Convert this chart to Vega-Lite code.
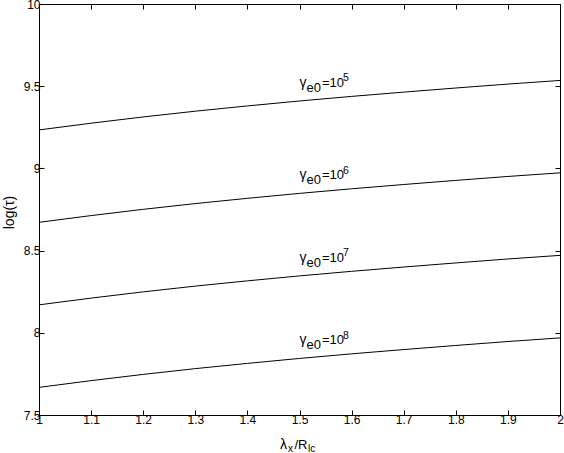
{
  "$schema": "https://vega.github.io/schema/vega-lite/v6.json",
  "width": 521,
  "height": 411,
  "autosize": {"type": "none"},
  "padding": {"left": 39, "top": 4, "right": 4, "bottom": 38},
  "background": "white",
  "config": {
    "view": {"stroke": null},
    "font": "Liberation Sans",
    "axis": {
      "domainColor": "black",
      "domainWidth": 1,
      "tickColor": "black",
      "tickSize": -5,
      "labelColor": "black",
      "labelFont": "Liberation Sans",
      "labelFontSize": 12,
      "grid": false,
      "titleFont": "Liberation Sans",
      "titleFontWeight": "normal",
      "titleColor": "black"
    }
  },
  "datasets": {
    "curves": [
      {"series": "1e5", "x": 1.0, "y": 9.234}, {"series": "1e5", "x": 1.1, "y": 9.275}, {"series": "1e5", "x": 1.2, "y": 9.313}, {"series": "1e5", "x": 1.3, "y": 9.348}, {"series": "1e5", "x": 1.4, "y": 9.380}, {"series": "1e5", "x": 1.5, "y": 9.410}, {"series": "1e5", "x": 1.6, "y": 9.438}, {"series": "1e5", "x": 1.7, "y": 9.464}, {"series": "1e5", "x": 1.8, "y": 9.489}, {"series": "1e5", "x": 1.9, "y": 9.513}, {"series": "1e5", "x": 2.0, "y": 9.535},
      {"series": "1e6", "x": 1.0, "y": 8.672}, {"series": "1e6", "x": 1.1, "y": 8.713}, {"series": "1e6", "x": 1.2, "y": 8.751}, {"series": "1e6", "x": 1.3, "y": 8.786}, {"series": "1e6", "x": 1.4, "y": 8.818}, {"series": "1e6", "x": 1.5, "y": 8.848}, {"series": "1e6", "x": 1.6, "y": 8.876}, {"series": "1e6", "x": 1.7, "y": 8.902}, {"series": "1e6", "x": 1.8, "y": 8.927}, {"series": "1e6", "x": 1.9, "y": 8.951}, {"series": "1e6", "x": 2.0, "y": 8.973},
      {"series": "1e7", "x": 1.0, "y": 8.170}, {"series": "1e7", "x": 1.1, "y": 8.211}, {"series": "1e7", "x": 1.2, "y": 8.249}, {"series": "1e7", "x": 1.3, "y": 8.284}, {"series": "1e7", "x": 1.4, "y": 8.316}, {"series": "1e7", "x": 1.5, "y": 8.346}, {"series": "1e7", "x": 1.6, "y": 8.374}, {"series": "1e7", "x": 1.7, "y": 8.400}, {"series": "1e7", "x": 1.8, "y": 8.425}, {"series": "1e7", "x": 1.9, "y": 8.449}, {"series": "1e7", "x": 2.0, "y": 8.471},
      {"series": "1e8", "x": 1.0, "y": 7.668}, {"series": "1e8", "x": 1.1, "y": 7.709}, {"series": "1e8", "x": 1.2, "y": 7.747}, {"series": "1e8", "x": 1.3, "y": 7.782}, {"series": "1e8", "x": 1.4, "y": 7.814}, {"series": "1e8", "x": 1.5, "y": 7.844}, {"series": "1e8", "x": 1.6, "y": 7.872}, {"series": "1e8", "x": 1.7, "y": 7.898}, {"series": "1e8", "x": 1.8, "y": 7.923}, {"series": "1e8", "x": 1.9, "y": 7.947}, {"series": "1e8", "x": 2.0, "y": 7.969}
    ],
    "labels": [
      {"x": 1.5, "y": 9.496, "exp": "5"},
      {"x": 1.5, "y": 8.933, "exp": "6"},
      {"x": 1.5, "y": 8.432, "exp": "7"},
      {"x": 1.5, "y": 7.931, "exp": "8"}
    ]
  },
  "layer": [
    {
      "data": {"name": "curves"},
      "mark": {"type": "line", "color": "black", "strokeWidth": 1},
      "encoding": {
        "x": {"field": "x", "type": "quantitative", "scale": {"domain": [1, 2], "nice": false, "zero": false},
              "axis": {"orient": "bottom", "values": [1, 1.1, 1.2, 1.3, 1.4, 1.5, 1.6, 1.7, 1.8, 1.9, 2], "format": "~g", "labelPadding": 4, "title": null, "labelFlush": false}},
        "y": {"field": "y", "type": "quantitative", "scale": {"domain": [7.5, 10], "nice": false, "zero": false},
              "axis": {"orient": "left", "values": [7.5, 8, 8.5, 9, 9.5, 10], "format": "~g", "labelPadding": 4, "title": "log(τ)", "titleFontSize": 14, "titleX": -26, "titleY": 208, "titleAngle": -90, "titleAlign": "center", "titleBaseline": "alphabetic", "labelFlush": false}},
        "detail": {"field": "series"}
      }
    },
    {
      "data": {"name": "curves"},
      "mark": {"type": "line", "opacity": 0},
      "encoding": {
        "x": {"field": "x", "type": "quantitative",
              "axis": {"orient": "top", "values": [1, 1.1, 1.2, 1.3, 1.4, 1.5, 1.6, 1.7, 1.8, 1.9, 2], "labels": false, "title": null}},
        "y": {"field": "y", "type": "quantitative",
              "axis": {"orient": "right", "values": [7.5, 8, 8.5, 9, 9.5, 10], "labels": false, "title": null}},
        "detail": {"field": "series"}
      }
    },
    {
      "data": {"name": "labels"},
      "mark": {"type": "text", "align": "left", "baseline": "alphabetic", "fontSize": 14, "dx": 0, "dy": 0, "color": "black"},
      "encoding": {
        "x": {"field": "x", "type": "quantitative", "axis": null},
        "y": {"field": "y", "type": "quantitative", "axis": null},
        "text": {"value": "γ"}
      }
    },
    {
      "data": {"name": "labels"},
      "mark": {"type": "text", "align": "left", "baseline": "alphabetic", "fontSize": 13, "dx": 7, "dy": 5, "color": "black"},
      "encoding": {
        "x": {"field": "x", "type": "quantitative", "axis": null},
        "y": {"field": "y", "type": "quantitative", "axis": null},
        "text": {"value": "e0"}
      }
    },
    {
      "data": {"name": "labels"},
      "mark": {"type": "text", "align": "left", "baseline": "alphabetic", "fontSize": 13, "dx": 22.5, "dy": 0, "color": "black"},
      "encoding": {
        "x": {"field": "x", "type": "quantitative", "axis": null},
        "y": {"field": "y", "type": "quantitative", "axis": null},
        "text": {"value": "=10"}
      }
    },
    {
      "data": {"name": "labels"},
      "mark": {"type": "text", "align": "left", "baseline": "alphabetic", "fontSize": 10.5, "dx": 43.5, "dy": -5.5, "color": "black"},
      "encoding": {
        "x": {"field": "x", "type": "quantitative", "axis": null},
        "y": {"field": "y", "type": "quantitative", "axis": null},
        "text": {"field": "exp"}
      }
    },
    {
      "data": {"values": [{}]},
      "mark": {"type": "text", "align": "left", "baseline": "alphabetic", "fontSize": 14, "dx": -19.5, "dy": 34, "color": "black"},
      "encoding": {
        "x": {"datum": 1.5, "type": "quantitative", "axis": null},
        "y": {"datum": 7.5, "type": "quantitative", "axis": null},
        "text": {"value": "λ"}
      }
    },
    {
      "data": {"values": [{}]},
      "mark": {"type": "text", "align": "left", "baseline": "alphabetic", "fontSize": 10, "dx": -11.5, "dy": 37, "color": "black"},
      "encoding": {
        "x": {"datum": 1.5, "type": "quantitative", "axis": null},
        "y": {"datum": 7.5, "type": "quantitative", "axis": null},
        "text": {"value": "x"}
      }
    },
    {
      "data": {"values": [{}]},
      "mark": {"type": "text", "align": "left", "baseline": "alphabetic", "fontSize": 13, "dx": -5, "dy": 34, "color": "black"},
      "encoding": {
        "x": {"datum": 1.5, "type": "quantitative", "axis": null},
        "y": {"datum": 7.5, "type": "quantitative", "axis": null},
        "text": {"value": "/R"}
      }
    },
    {
      "data": {"values": [{}]},
      "mark": {"type": "text", "align": "left", "baseline": "alphabetic", "fontSize": 10, "dx": 8.5, "dy": 37, "color": "black"},
      "encoding": {
        "x": {"datum": 1.5, "type": "quantitative", "axis": null},
        "y": {"datum": 7.5, "type": "quantitative", "axis": null},
        "text": {"value": "lc"}
      }
    }
  ],
  "resolve": {"axis": {"x": "independent", "y": "independent"}}
}
